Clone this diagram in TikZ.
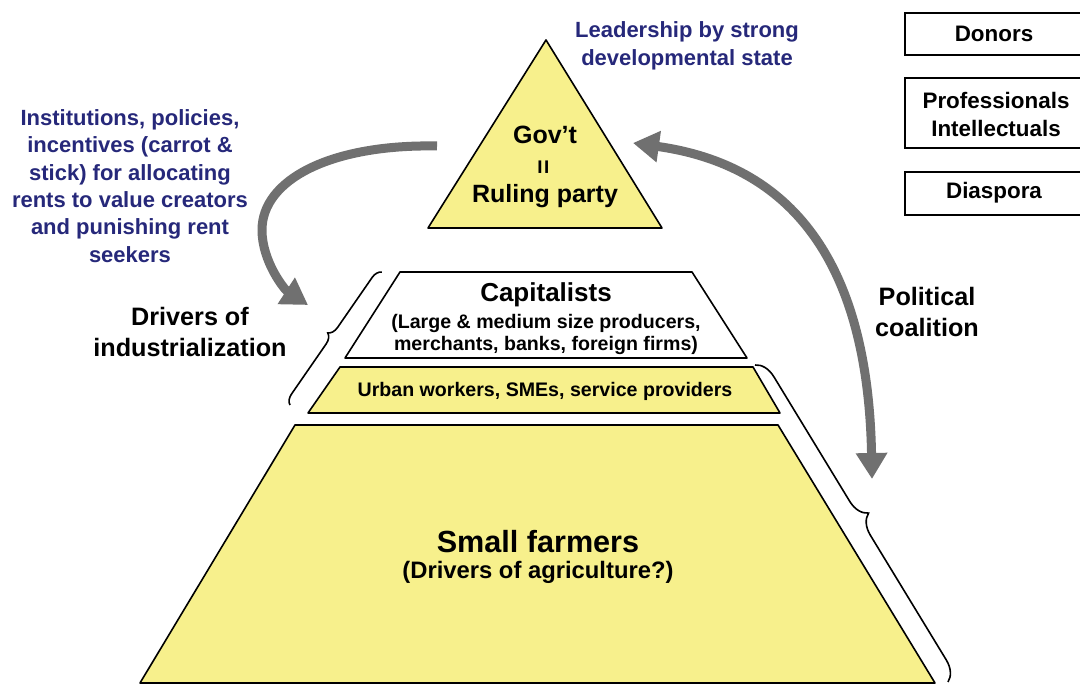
\documentclass[tikz,border=0pt]{standalone}
\usepackage{fontspec}
\usepackage{graphicx}
\setmainfont{Liberation Sans}
\usetikzlibrary{arrows.meta,decorations.pathreplacing}
\definecolor{pyryellow}{RGB}{247,240,140}
\definecolor{navyblue}{RGB}{38,40,122}
\definecolor{arrowgray}{RGB}{112,112,112}
\newcommand\fsz[2]{\fontsize{#1}{#2}\selectfont}
\begin{document}
\begin{tikzpicture}[x=0.5pt,y=-0.5pt,
  layer/.style={draw=black,line width=0.8pt,line join=round},
  lbl/.style={inner sep=0pt,align=center},
  bluetxt/.style={lbl,text=navyblue,font=\bfseries\fsz{11}{13.7}},
  blacktxt/.style={lbl,text=black,font=\bfseries\fsz{12.6}{15.5}},
  boxtxt/.style={lbl,text=black,font=\bfseries\fsz{11.2}{14}},
  boxline/.style={draw=black,line width=1pt},
  garrow/.style={draw=arrowgray,line width=4.5pt,-{Triangle[width=15pt,length=13pt]}},
  garrowboth/.style={draw=arrowgray,line width=4.5pt,{Triangle[width=15pt,length=13pt]}-{Triangle[width=15pt,length=13pt]}},
  bracepath/.style={draw=black,line width=0.8pt,decorate,decoration={brace,amplitude=#1}}
]
\useasboundingbox (0,0) rectangle (1080,684);
\fill[white] (0,0) rectangle (1080,684);

% pyramid layers
\filldraw[layer,fill=pyryellow] (295,425) -- (778,425) -- (935,683) -- (140,683) -- cycle;
\filldraw[layer,fill=pyryellow] (340,367) -- (753,367) -- (780,413) -- (308,413) -- cycle;
\filldraw[layer,fill=white] (400,272) -- (692,272) -- (747,358) -- (345,358) -- cycle;
\filldraw[layer,fill=pyryellow] (546,40) -- (662,228) -- (428,228) -- cycle;

% triangle texts
\node[lbl,font=\bfseries\fsz{12.5}{15}] (gov) at (545,135) {Gov’t};
\node[lbl,font=\bfseries\fsz{12.5}{15}] (eq) at (545,167) {\rotatebox{90}{=}};
\node[lbl,font=\bfseries\fsz{12.5}{15}] (ruling) at (545,196) {Ruling party};

% layer texts
\node[lbl,font=\bfseries\fsz{13}{15}] (cap) at (546,295) {Capitalists};
\node[lbl,font=\bfseries\fsz{9.8}{11}] (capsub) at (546,334) {(Large \& medium size producers,\\merchants, banks, foreign firms)};
\node[lbl,font=\bfseries\fsz{9.8}{11}] (urban) at (545,391) {Urban workers, SMEs, service providers};
\node[lbl,font=\bfseries\fsz{15.3}{18}] (farm) at (538,542) {Small farmers};
\node[lbl,font=\bfseries\fsz{11.9}{14}] (farmsub) at (538,572) {(Drivers of agriculture?)};

% side texts
\node[bluetxt] (lead) at (687,46) {Leadership by strong\\developmental state};
\node[bluetxt] (inst) at (130,186) {Institutions, policies,\\incentives (carrot \&\\stick) for allocating\\rents to value creators\\and punishing rent\\seekers};
\node[blacktxt] (drivers) at (190,332) {Drivers of\\industrialization};
\node[blacktxt] (coal) at (927,312) {Political\\coalition};

% right boxes
\node[boxtxt] (donors) at (994,34) {Donors};
\draw[boxline] (1080,13) -- (905,13) -- (905,55) -- (1080,55);
\node[boxtxt] (prof) at (996,114) {Professionals\\Intellectuals};
\draw[boxline] (1080,78) -- (905,78) -- (905,148) -- (1080,148);
\node[boxtxt] (dias) at (994,193) {Diaspora};
\draw[boxline] (1080,172) -- (905,172) -- (905,215) -- (1080,215);

% braces
\coordinate (lbA) at (290,405);
\coordinate (lbB) at (382,272);
\draw[bracepath=5pt] (lbA) -- (lbB);
\coordinate (rbA) at (755,365);
\coordinate (rbB) at (948,682);
\draw[bracepath=10pt] (rbA) -- (rbB);

% arrows
\coordinate (govL) at (437,146);
\coordinate (drvT) at (308,305);
\draw[garrow] (govL) .. controls (330,144) and (262,180) .. (262,230) .. controls (262,262) and (285,290) .. (drvT);
\coordinate (govR) at (633,143);
\coordinate (coalB) at (872,479);
\draw[garrowboth] (govR) .. controls (790,165) and (868,260) .. (coalB);
\end{tikzpicture}
\end{document}
